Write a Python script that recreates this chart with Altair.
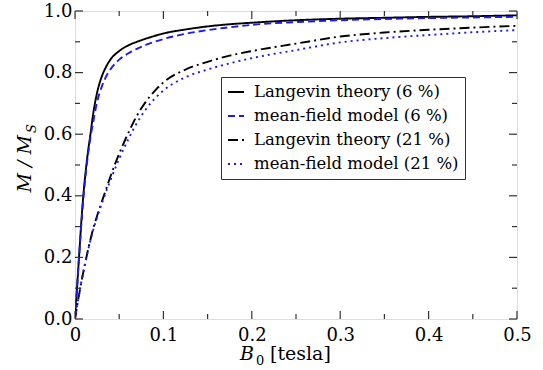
import altair as alt
import pandas as pd

# ---- data ----
B = [0, 0.0025, 0.005, 0.0075, 0.01, 0.0125, 0.015, 0.0175, 0.02, 0.025, 0.03, 0.035,
     0.04, 0.05, 0.06, 0.07, 0.08, 0.09, 0.1, 0.125, 0.15, 0.175, 0.2, 0.25, 0.3,
     0.35, 0.4, 0.45, 0.5]
lang6 = [0, 0.11, 0.22, 0.33, 0.42, 0.49, 0.55, 0.60, 0.655, 0.735, 0.785, 0.818,
         0.842, 0.87, 0.888, 0.90, 0.91, 0.919, 0.927, 0.94, 0.95, 0.957, 0.962,
         0.970, 0.975, 0.978, 0.981, 0.983, 0.986]
mf6 = [0, 0.11, 0.22, 0.32, 0.41, 0.48, 0.54, 0.59, 0.63, 0.705, 0.752, 0.786,
       0.81, 0.842, 0.862, 0.877, 0.89, 0.90, 0.909, 0.926, 0.938, 0.947, 0.955,
       0.964, 0.970, 0.974, 0.977, 0.979, 0.981]
lang21 = [0, 0.045, 0.085, 0.125, 0.16, 0.195, 0.228, 0.258, 0.287, 0.335, 0.378, 0.42,
          0.462, 0.537, 0.602, 0.66, 0.705, 0.74, 0.768, 0.81, 0.835, 0.855, 0.87,
          0.894, 0.917, 0.93, 0.939, 0.946, 0.952]
mf21 = [0, 0.045, 0.085, 0.125, 0.16, 0.195, 0.226, 0.255, 0.283, 0.33, 0.372, 0.412,
        0.45, 0.52, 0.582, 0.636, 0.68, 0.715, 0.742, 0.785, 0.81, 0.83, 0.847,
        0.873, 0.898, 0.912, 0.922, 0.931, 0.938]
series = ["Langevin theory (6 %)", "mean-field model (6 %)",
          "Langevin theory (21 %)", "mean-field model (21 %)"]
x_major = [0, 0.1, 0.2, 0.3, 0.4, 0.5]
x_minor = [0.05, 0.15, 0.25, 0.35, 0.45]
y_major = [0, 0.2, 0.4, 0.6, 0.8, 1.0]
y_minor = [0.1, 0.3, 0.5, 0.7, 0.9]

rows = []
for name, vals in zip(series, [lang6, mf6, lang21, mf21]):
    for i, (b, m) in enumerate(zip(B, vals)):
        rows.append({"B": b, "M": m, "series": name, "order": i})
df = pd.DataFrame(rows)

W, H = 442, 308
FONT = "DejaVu Serif"
xs = alt.Scale(domain=[0, 0.5], nice=False, zero=False)
ys = alt.Scale(domain=[0, 1.0], nice=False, zero=False)

lines = alt.Chart(df).mark_line(strokeWidth=1.9, clip=True, strokeCap="butt",
                                interpolate="monotone").encode(
    x=alt.X("B:Q", scale=xs, axis=alt.Axis(
        values=x_major, ticks=False, domain=False, grid=False, title=None,
        labelExpr="datum.value == 0 ? '0' : format(datum.value, '.1f')",
        labelFont=FONT, labelFontSize=18, labelPadding=7, labelFlush=False,
        labelColor="black")),
    y=alt.Y("M:Q", scale=ys, axis=alt.Axis(
        values=y_major, ticks=False, domain=False, grid=False, title=None,
        format=".1f", labelFont=FONT, labelFontSize=18, labelPadding=3,
        labelFlush=False, labelColor="black")),
    color=alt.Color("series:N", scale=alt.Scale(
        domain=series, range=["#000000", "#1a1aee", "#000000", "#1a1aee"]),
        legend=alt.Legend(
            title=None, orient="none", legendX=146, legendY=66,
            labelFont=FONT, labelFontSize=16.5, labelColor="black",
            symbolType="stroke", symbolSize=256, symbolStrokeWidth=2,
            labelOffset=9, rowPadding=6, padding=6,
            strokeColor="#333333", fillColor="white", labelLimit=400)),
    strokeDash=alt.StrokeDash("series:N", scale=alt.Scale(
        domain=series, range=[[1, 0], [7, 4], [10, 4, 2, 4], [2, 4]]),
        legend=None),
    order="order:Q",
)

tick_col = "#333333"
def tickx(vals, y0, y1):
    return alt.Chart(pd.DataFrame({"v": vals})).mark_rule(color=tick_col, strokeWidth=1.2).encode(
        x=alt.X("v:Q", scale=xs), y=alt.value(y0), y2=alt.value(y1))

def ticky(vals, x0, x1):
    return alt.Chart(pd.DataFrame({"v": vals})).mark_rule(color=tick_col, strokeWidth=1.2).encode(
        y=alt.Y("v:Q", scale=ys), x=alt.value(x0), x2=alt.value(x1))

ticks = [
    tickx(x_major, H, H - 8), tickx(x_minor, H, H - 5),
    tickx(x_major, 0, 8), tickx(x_minor, 0, 5),
    ticky(y_major, 0, 8), ticky(y_minor, 0, 5),
    ticky(y_major, W, W - 8), ticky(y_minor, W, W - 5),
]

def label(text, x, y, size=19, style="normal", angle=0, align="left"):
    return alt.Chart(pd.DataFrame({"t": [text]})).mark_text(
        font=FONT, fontSize=size, fontStyle=style, angle=angle, align=align,
        baseline="alphabetic", color="black").encode(
        text="t:N", x=alt.value(x), y=alt.value(y))

titles = [
    label("B", 165, 349, 19, "italic"),
    label("0", 181, 354, 13),
    label("[tesla]", 195, 349, 19),
    label("M / M", -44, 124, 19, "italic", angle=270, align="right"),
    label("S", -39, 122, 13, "italic", angle=270, align="left"),
]

chart = alt.layer(lines, *ticks, *titles).resolve_scale(
    color="shared", strokeDash="shared"
).properties(
    width=W, height=H,
    autosize=alt.AutoSizeParams(type="none"),
    padding={"left": 75, "top": 11, "right": 26, "bottom": 51},
).configure_view(stroke="#333333", strokeWidth=1.5).configure(background="white")

chart.save("out.html", embed_options={"renderer": "svg", "actions": False})
